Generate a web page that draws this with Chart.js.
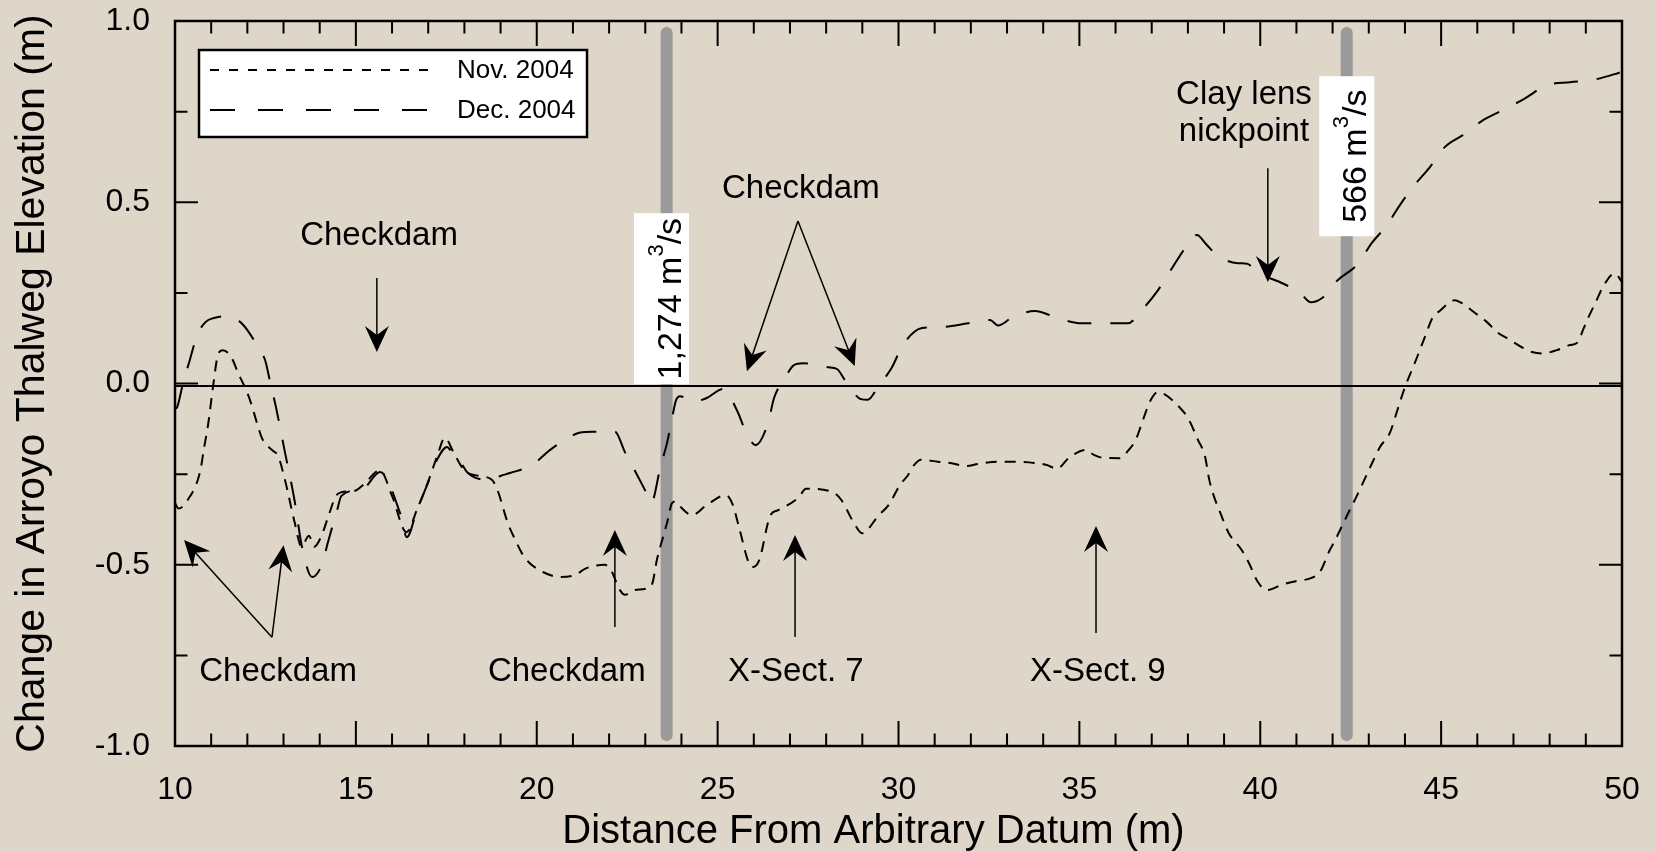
<!DOCTYPE html>
<html><head><meta charset="utf-8">
<script src="https://cdn.jsdelivr.net/npm/chart.js@4.4.1/dist/chart.umd.min.js"></script>
<style>html,body{margin:0;padding:0;background:#DED6C8;}canvas{display:block;}</style>
</head><body>
<canvas id="c" width="1656" height="852"></canvas>
<script>
// ---------------- DATA ----------------
const NOV_X = [10.0,10.1,10.36,10.69,10.8,10.92,11.05,11.19,11.32,11.46,11.6,11.74,11.93,12.07,12.27,12.4,12.54,12.7,12.85,13.05,13.3,13.5,13.7,13.85,14.05,14.26,14.45,14.6,15.0,15.2,15.67,16.0,16.4,16.7,17.0,17.25,17.46,17.7,18.0,18.4,18.75,18.9,19.2,19.4,19.6,19.8,20.17,20.64,21.06,21.36,21.88,22.05,22.3,22.44,22.69,23.05,23.2,23.32,23.49,23.6,23.74,23.85,24.0,24.29,24.7,25.23,25.42,25.6,25.87,25.98,26.15,26.46,26.66,27.25,27.44,28.19,28.41,28.77,28.99,29.46,29.73,30.04,30.26,30.43,30.62,31.09,31.47,31.85,32.2,32.72,33.27,33.83,34.1,34.38,34.71,35.18,35.4,35.65,36.12,36.35,36.56,36.76,36.95,37.17,37.36,37.78,38.0,38.28,38.47,38.6,38.94,39.13,39.49,39.69,39.93,40.18,40.6,41.0,41.4,41.65,41.92,42.03,42.42,42.67,43.09,43.31,43.58,43.77,44.0,44.27,44.55,44.77,44.96,45.38,45.6,45.93,46.26,46.57,46.82,47.23,47.51,47.8,48.2,48.56,48.78,48.92,49.06,49.3,49.47,49.8,50.0];
const NOV_Y = [-0.33,-0.345,-0.32,-0.245,-0.18,-0.11,-0.01,0.08,0.092,0.085,0.064,0.03,-0.01,-0.045,-0.11,-0.15,-0.17,-0.185,-0.2,-0.27,-0.38,-0.45,-0.42,-0.45,-0.42,-0.36,-0.31,-0.3,-0.295,-0.28,-0.24,-0.31,-0.41,-0.345,-0.27,-0.2,-0.15,-0.19,-0.24,-0.255,-0.265,-0.29,-0.385,-0.43,-0.47,-0.495,-0.52,-0.534,-0.528,-0.51,-0.5,-0.515,-0.57,-0.583,-0.57,-0.565,-0.55,-0.487,-0.424,-0.385,-0.33,-0.325,-0.343,-0.363,-0.335,-0.308,-0.335,-0.4,-0.497,-0.506,-0.487,-0.363,-0.35,-0.313,-0.29,-0.3,-0.32,-0.385,-0.413,-0.363,-0.335,-0.28,-0.253,-0.225,-0.21,-0.216,-0.22,-0.228,-0.222,-0.216,-0.216,-0.22,-0.225,-0.235,-0.205,-0.183,-0.197,-0.205,-0.206,-0.185,-0.155,-0.1,-0.05,-0.024,-0.03,-0.067,-0.095,-0.156,-0.2,-0.27,-0.368,-0.413,-0.46,-0.496,-0.547,-0.57,-0.555,-0.545,-0.537,-0.52,-0.46,-0.44,-0.36,-0.31,-0.22,-0.175,-0.137,-0.08,-0.01,0.056,0.128,0.183,0.2,0.23,0.22,0.195,0.17,0.14,0.125,0.1,0.087,0.083,0.092,0.106,0.114,0.147,0.18,0.23,0.266,0.304,0.28];

const DEC_X = [10.0,10.06,10.22,10.41,10.61,10.85,11.05,11.44,11.66,11.9,12.13,12.35,12.49,12.63,12.79,13.04,13.3,13.51,13.79,14.06,14.23,14.48,14.6,15.2,15.67,16.22,16.41,16.69,16.99,17.24,17.52,17.66,17.82,18.1,18.71,19.0,19.26,19.87,20.37,20.92,21.2,21.53,22.16,22.44,22.8,23.07,23.16,23.43,23.6,23.74,23.85,23.96,24.3,24.7,25.15,25.53,25.81,26.05,26.39,26.56,26.86,27.1,27.36,28.05,28.3,28.52,28.96,29.15,29.43,29.82,30.12,30.65,31.23,31.92,32.53,32.75,33.16,33.77,34.41,35.07,35.7,36.34,36.73,37.17,37.56,37.92,38.25,38.5,38.8,39.38,39.65,39.9,40.54,41.1,41.4,41.7,42.14,42.67,43.08,43.5,43.86,44.22,44.69,45.1,45.6,46.15,46.7,47.31,47.92,48.56,49.17,49.88,50.0];
const DEC_Y = [-0.07,-0.065,0.0,0.065,0.133,0.17,0.18,0.186,0.18,0.16,0.128,0.09,0.065,0.004,-0.065,-0.19,-0.32,-0.45,-0.534,-0.5,-0.437,-0.35,-0.31,-0.29,-0.244,-0.357,-0.424,-0.349,-0.275,-0.211,-0.175,-0.19,-0.205,-0.247,-0.266,-0.255,-0.247,-0.225,-0.183,-0.147,-0.135,-0.133,-0.133,-0.19,-0.257,-0.31,-0.33,-0.225,-0.165,-0.096,-0.046,-0.035,-0.05,-0.04,-0.015,-0.073,-0.14,-0.17,-0.11,-0.04,0.015,0.05,0.056,0.045,0.04,0.009,-0.043,-0.045,-0.01,0.045,0.106,0.153,0.156,0.166,0.175,0.16,0.183,0.2,0.18,0.166,0.166,0.166,0.203,0.257,0.318,0.373,0.41,0.385,0.354,0.332,0.33,0.307,0.28,0.25,0.224,0.235,0.285,0.327,0.387,0.437,0.492,0.542,0.597,0.652,0.685,0.726,0.754,0.786,0.823,0.831,0.837,0.856,0.86];

const SERIES_NAMES = ['Nov. 2004', 'Dec. 2004'];
const X_RANGE = [10, 50];
const Y_RANGE = [-1, 1];
const X_MAJOR_STEP = 5, X_MINOR_STEP = 1;
const Y_MAJOR_STEP = 0.5, Y_MINOR_STEP = 0.25;
const ZERO_LINE_Y = -0.007;

// discharge markers (vertical grey bars)
const DISCHARGE_X = [23.59, 42.39];
const DISCHARGE_Y = [-0.97, 0.967];
const DISCHARGE_TEXT = ['1,274', '566'];
const DISCHARGE_BOX_X = [23.45, 42.39];
const DISCHARGE_BOX_Y = [0.234, 0.627];

// annotation texts (x, y in data units)
const NOTE_TEXT = ['Checkdam', 'Checkdam', 'Clay lens', 'nickpoint', 'Checkdam', 'Checkdam', 'X-Sect. 7', 'X-Sect. 9'];
const NOTE_X = [15.64, 27.30, 39.55, 39.55, 12.85, 20.83, 27.16, 35.51];
const NOTE_Y = [0.406, 0.536, 0.795, 0.693, -0.796, -0.796, -0.796, -0.796];

// arrows: tail (x,y) -> tip (x,y), data units
const ARROW_X0 = [15.58, 27.22, 27.22, 40.21, 12.68, 12.68, 22.16, 27.14, 35.46];
const ARROW_Y0 = [0.291, 0.448, 0.448, 0.594, -0.700, -0.700, -0.672, -0.699, -0.688];
const ARROW_X1 = [15.58, 25.81, 28.79, 40.21, 10.25, 13.00, 22.16, 27.14, 35.46];
const ARROW_Y1 = [0.087, 0.034, 0.048, 0.280, -0.432, -0.446, -0.404, -0.418, -0.393];

// ---------------- STYLE ----------------
const BG = '#DED6C8';
const FONT = '"Liberation Sans", Arial, Helvetica, sans-serif';
const NOV_DASH = [11, 8];
const DEC_DASH = [24, 19];
const BOX_H = [171, 160];

const pts = (xs, ys) => xs.map((x, i) => ({x, y: ys[i]}));

const decoPlugin = {
  id: 'deco',
  beforeDraw(chart) {
    const ctx = chart.ctx;
    ctx.save();
    ctx.fillStyle = BG;
    ctx.fillRect(0, 0, chart.width, chart.height);
    ctx.restore();
  },
  afterDatasetsDraw(chart) {
    const ctx = chart.ctx, xs = chart.scales.x, ys = chart.scales.y;
    const X = v => xs.getPixelForValue(v), Y = v => ys.getPixelForValue(v);
    const ca = chart.chartArea;
    ctx.save();

    // discharge label boxes
    DISCHARGE_TEXT.forEach((t, i) => {
      const cx = X(DISCHARGE_BOX_X[i]), cy = Y(DISCHARGE_BOX_Y[i]);
      const fs = 34, ss = 22;
      ctx.font = fs + 'px ' + FONT;
      const w1 = ctx.measureText(t + ' m').width;
      const w3 = ctx.measureText('/s').width;
      ctx.font = ss + 'px ' + FONT;
      const w2 = ctx.measureText('3').width;
      const L = w1 + w2 + w3;
      const bw = 55, bh = BOX_H[i];
      ctx.fillStyle = '#ffffff';
      ctx.fillRect(cx - bw / 2, cy - bh / 2, bw, bh);
      ctx.save();
      ctx.translate(cx + 19, cy + L / 2);
      ctx.rotate(-Math.PI / 2);
      ctx.fillStyle = '#000';
      ctx.textBaseline = 'alphabetic';
      ctx.textAlign = 'left';
      ctx.font = fs + 'px ' + FONT;
      ctx.fillText(t + ' m', 0, 0);
      ctx.font = ss + 'px ' + FONT;
      ctx.fillText('3', w1, -18);
      ctx.font = fs + 'px ' + FONT;
      ctx.fillText('/s', w1 + w2, 0);
      ctx.restore();
    });

    // frame
    ctx.strokeStyle = '#000';
    ctx.lineWidth = 2.5;
    ctx.setLineDash([]);
    ctx.strokeRect(ca.left, ca.top, ca.right - ca.left, ca.bottom - ca.top);
    // ticks (inward, all four sides)
    ctx.lineWidth = 2;
    ctx.beginPath();
    for (let v = X_RANGE[0]; v <= X_RANGE[1] + 1e-9; v += X_MINOR_STEP) {
      const major = Math.abs(v / X_MAJOR_STEP - Math.round(v / X_MAJOR_STEP)) < 1e-6;
      const len = major ? 25 : 12.5;
      const px = X(v);
      ctx.moveTo(px, ca.bottom); ctx.lineTo(px, ca.bottom - len);
      ctx.moveTo(px, ca.top); ctx.lineTo(px, ca.top + len);
    }
    for (let v = Y_RANGE[0]; v <= Y_RANGE[1] + 1e-9; v += Y_MINOR_STEP) {
      const major = Math.abs(v / Y_MAJOR_STEP - Math.round(v / Y_MAJOR_STEP)) < 1e-6;
      const len = major ? 23 : 12.5;
      const py = Y(v);
      ctx.moveTo(ca.left, py); ctx.lineTo(ca.left + len, py);
      ctx.moveTo(ca.right, py); ctx.lineTo(ca.right - len, py);
    }
    ctx.stroke();

    // arrows
    const arrow = (x0, y0, x1, y1) => {
      const a = Math.atan2(y1 - y0, x1 - x0);
      ctx.lineWidth = 1.5;
      ctx.beginPath();
      ctx.moveTo(x0, y0);
      ctx.lineTo(x1 - Math.cos(a) * 14, y1 - Math.sin(a) * 14);
      ctx.stroke();
      ctx.save();
      ctx.translate(x1, y1);
      ctx.rotate(a);
      ctx.beginPath();
      ctx.moveTo(0, 0);
      ctx.lineTo(-26, -12);
      ctx.lineTo(-17, 0);
      ctx.lineTo(-26, 12);
      ctx.closePath();
      ctx.fillStyle = '#000';
      ctx.fill();
      ctx.restore();
    };
    ARROW_X0.forEach((x0, i) => arrow(X(x0), Y(ARROW_Y0[i]), X(ARROW_X1[i]), Y(ARROW_Y1[i])));

    // notes
    ctx.fillStyle = '#000';
    ctx.font = '33px ' + FONT;
    ctx.textAlign = 'center';
    ctx.textBaseline = 'middle';
    NOTE_TEXT.forEach((t, i) => ctx.fillText(t, X(NOTE_X[i]), Y(NOTE_Y[i])));

    // legend
    const lx = ca.left + 24, ly = ca.top + 29, lw = 388, lh = 87;
    ctx.fillStyle = '#fff';
    ctx.fillRect(lx, ly, lw, lh);
    ctx.lineWidth = 2.5;
    ctx.strokeStyle = '#000';
    ctx.strokeRect(lx, ly, lw, lh);
    const legDash = [[9, 10], [25, 23]];
    SERIES_NAMES.forEach((name, i) => {
      const yy = ly + 20 + i * 40;
      ctx.lineWidth = 2;
      ctx.setLineDash(legDash[i]);
      ctx.beginPath();
      ctx.moveTo(lx + 11, yy); ctx.lineTo(lx + 233, yy);
      ctx.stroke();
      ctx.setLineDash([]);
      ctx.fillStyle = '#000';
      ctx.font = '26px ' + FONT;
      ctx.textAlign = 'left';
      ctx.textBaseline = 'middle';
      ctx.fillText(name, lx + 258, yy + 1);
    });

    // x axis title
    ctx.font = '40px ' + FONT;
    ctx.textAlign = 'center';
    ctx.textBaseline = 'middle';
    ctx.fillStyle = '#000';
    ctx.fillText('Distance From Arbitrary Datum (m)', (ca.left + ca.right) / 2 - 25, 832);
    ctx.restore();
  }
};

const datasets = [
  {label: SERIES_NAMES[1], data: pts(DEC_X, DEC_Y), borderColor: '#000', borderWidth: 2, borderDash: DEC_DASH, pointRadius: 0, fill: false, cubicInterpolationMode: 'monotone', order: 1},
  {label: SERIES_NAMES[0], data: pts(NOV_X, NOV_Y), borderColor: '#000', borderWidth: 2, borderDash: NOV_DASH, pointRadius: 0, fill: false, cubicInterpolationMode: 'monotone', order: 0},
  {label: 'zero', data: pts(X_RANGE, [ZERO_LINE_Y, ZERO_LINE_Y]), borderColor: '#000', borderWidth: 2, pointRadius: 0, fill: false, order: 2},
];
DISCHARGE_X.forEach((x, i) => datasets.push({
  label: DISCHARGE_TEXT[i], data: pts([x, x], DISCHARGE_Y), borderColor: '#9a9a9a', borderWidth: 12,
  borderCapStyle: 'round', pointRadius: 0, fill: false, order: 3
}));

new Chart(document.getElementById('c'), {
  type: 'line',
  data: {datasets},
  options: {
    responsive: false,
    animation: false,
    devicePixelRatio: 1,
    events: [],
    layout: {padding: {left: 0, top: 21, right: 34, bottom: 0}},
    plugins: {legend: {display: false}, tooltip: {enabled: false}},
    scales: {
      x: {
        type: 'linear', min: X_RANGE[0], max: X_RANGE[1],
        grid: {display: false, drawTicks: true, tickLength: 25}, border: {display: false},
        ticks: {stepSize: X_MAJOR_STEP, color: '#000', font: {family: FONT, size: 32}, padding: 0, maxRotation: 0,
          callback: v => String(v)},
        title: {display: false},
        afterFit: s => { s.height = 106; }
      },
      y: {
        type: 'linear', min: Y_RANGE[0], max: Y_RANGE[1],
        grid: {display: false, drawTicks: true, tickLength: 25}, border: {display: false},
        ticks: {stepSize: Y_MAJOR_STEP, color: '#000', font: {family: FONT, size: 32}, padding: 0,
          callback: v => Number(v).toFixed(1)},
        title: {display: true, text: 'Change in Arroyo Thalweg Elevation (m)', color: '#000',
          font: {family: FONT, size: 41}, padding: {top: 8, bottom: 0}},
        afterFit: s => { s.width = 175; }
      }
    }
  },
  plugins: [decoPlugin]
});
</script>
</body></html>
